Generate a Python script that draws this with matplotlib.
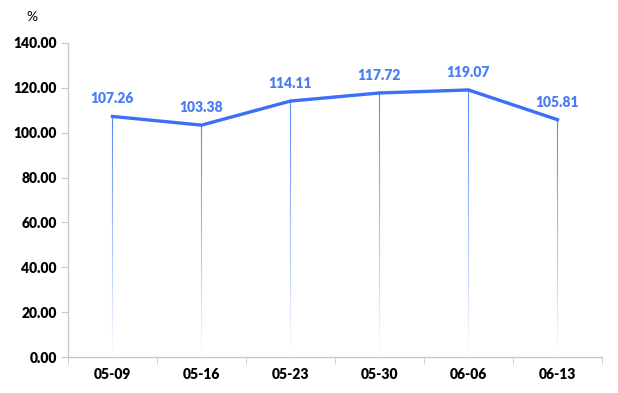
import numpy as np
import matplotlib
matplotlib.use("Agg")
import matplotlib.pyplot as plt
from matplotlib.collections import LineCollection

dates = ["05-09", "05-16", "05-23", "05-30", "06-06", "06-13"]
values = [107.26, 103.38, 114.11, 117.72, 119.07, 105.81]
yticks = [0, 20, 40, 60, 80, 100, 120, 140]

LINE = "#3b6ff6"
LABEL = "#4a7df5"
AXIS = "#c8c8c8"

plt.rcParams["font.family"] = ["Lato", "DejaVu Sans"]
W = "heavy"

fig = plt.figure(figsize=(6.18, 3.93), dpi=100)
ax = fig.add_axes([0.110, 0.0916, 0.864, 0.799])

x = np.arange(len(dates))

# fading drop lines from each point to the baseline
n = 80
for xi, v in zip(x, values):
    ys = np.linspace(v, 0, n + 1)
    segs = [[(xi, ys[i]), (xi, ys[i + 1])] for i in range(n)]
    alphas = np.linspace(0.9, 0.0, n)
    cols = [(0.23, 0.44, 0.96, a) for a in alphas]
    ax.add_collection(LineCollection(segs, colors=cols, linewidths=0.8,
                                     capstyle="butt", zorder=2))

ax.plot(x, values, color=LINE, lw=2.4, solid_joinstyle="miter", zorder=3)
for xi, v in zip(x, values):
    ax.annotate(f"{v:.2f}", (xi, v), xytext=(0, 8), textcoords="offset points",
                ha="center", va="bottom", color=LABEL, fontsize=10,
                fontweight=W)

ax.set_xlim(-0.5, len(dates) - 0.5)
ax.set_ylim(0, 140)
ax.set_yticks(yticks)
ax.set_yticklabels([f"{t:.2f}" for t in yticks], fontsize=10, fontweight=W)
ax.set_xticks(x)
ax.set_xticklabels(dates, fontsize=10, fontweight=W)
ax.set_xticks(np.arange(len(dates) + 1) - 0.5, minor=True)
ax.tick_params(axis="x", which="major", length=0, pad=8)
ax.tick_params(axis="x", which="minor", length=5, color=AXIS, direction="out")
ax.tick_params(axis="y", length=5, color=AXIS, pad=3)

for s in ["top", "right"]:
    ax.spines[s].set_visible(False)
for s in ["left", "bottom"]:
    ax.spines[s].set_color(AXIS)
    ax.spines[s].set_linewidth(1)

fig.text(32 / 618, 1 - 17 / 393, "%", ha="center", va="center", fontsize=10)

fig.savefig("out.png", dpi=100)
